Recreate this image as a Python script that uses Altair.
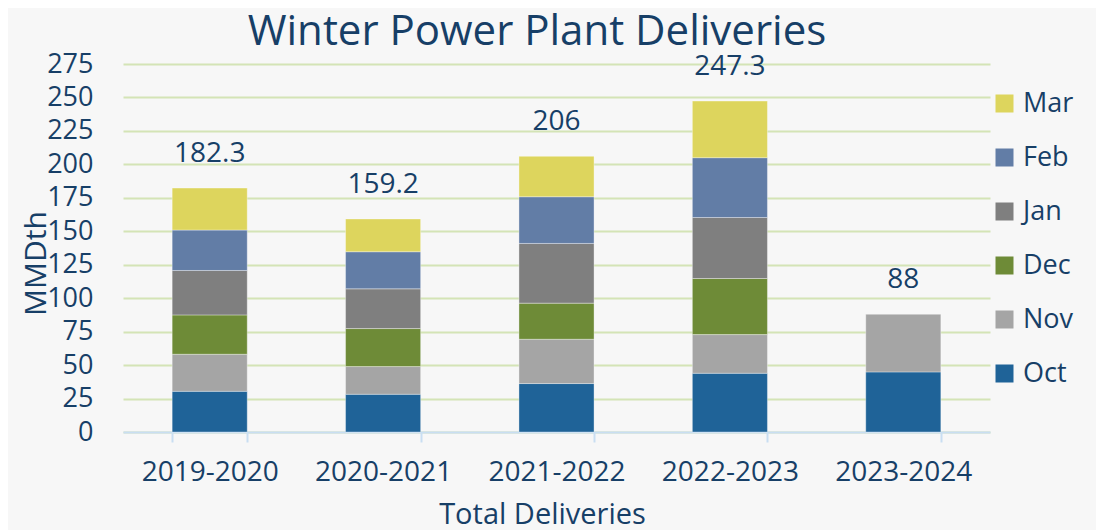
import altair as alt
import pandas as pd

seasons = ["2019-2020", "2020-2021", "2021-2022", "2022-2023", "2023-2024"]
months = ["Oct", "Nov", "Dec", "Jan", "Feb", "Mar"]
oct_vals = [30.4, 28.2, 36.2, 43.9, 44.9]
nov_vals = [27.7, 20.7, 33.1, 28.9, 43.1]
dec_vals = [29.4, 28.4, 27.0, 41.9, None]
jan_vals = [33.2, 29.7, 44.6, 45.6, None]
feb_vals = [30.2, 27.7, 34.9, 44.7, None]
mar_vals = [31.4, 24.5, 30.2, 42.3, None]
totals = [182.3, 159.2, 206, 247.3, 88]
total_labels = ["182.3", "159.2", "206", "247.3", "88"]
title_text = "Winter Power Plant Deliveries"

colors = {"Oct": "#1f6398", "Nov": "#a5a5a5", "Dec": "#6e8b37",
          "Jan": "#7f7f7f", "Feb": "#627da6", "Mar": "#ddd55d"}

series = [oct_vals, nov_vals, dec_vals, jan_vals, feb_vals, mar_vals]
rows = []
for mi, (m, vals) in enumerate(zip(months, series)):
    for s, v in zip(seasons, vals):
        if v is not None:
            rows.append({"season": s, "month": m, "order": mi, "value": v})
df = pd.DataFrame(rows)
tdf = pd.DataFrame({"season": seasons, "total": totals, "label": total_labels})

FONT = "Open Sans"
TXT = "#173f67"
legend_order = months[::-1]

xscale = alt.Scale(domain=seasons, paddingInner=0.567, paddingOuter=0.2835)
yscale = alt.Scale(domain=[0, 275], nice=False, zero=True)

x_axis = alt.Axis(title="Total Deliveries", labelAngle=0, labelFontSize=28,
                  labelColor=TXT, labelFont=FONT, labelPadding=16,
                  tickBand="extent", tickSize=10, tickColor="#c9def2", tickWidth=2,
                  domainColor="#c9def2", domainWidth=2,
                  titleFontSize=29, titleFont=FONT, titleColor=TXT,
                  titleFontWeight="normal", titleY=91, titleX=419,
                  titleAlign="center", titleBaseline="alphabetic")
y_axis = alt.Axis(title="MMDth", values=list(range(0, 276, 25)), labelOverlap=False,
                  labelFontSize=27, labelColor=TXT, labelFont=FONT,
                  labelPadding=30, ticks=False, tickSize=0, domain=False,
                  grid=True, gridColor="#d4e4b6", gridWidth=2,
                  titleFontSize=30, titleFont=FONT, titleColor=TXT,
                  titleFontWeight="normal", titleAngle=270, titleX=-78, titleY=199,
                  titleAlign="center", titleBaseline="alphabetic")

bars = alt.Chart(df).mark_bar(stroke="#ffffff", strokeOpacity=0.35, strokeWidth=1).encode(
    x=alt.X("season:N", scale=xscale, sort=seasons, axis=x_axis),
    y=alt.Y("value:Q", stack="zero", scale=yscale, axis=y_axis),
    color=alt.Color("month:N",
                    scale=alt.Scale(domain=legend_order, range=[colors[m] for m in legend_order]),
                    legend=alt.Legend(title=None, orient="none", legendX=868, legendY=26,
                                      symbolType="square", symbolSize=324, symbolStrokeWidth=0,
                                      symbolOpacity=1, labelFontSize=27, labelFont=FONT,
                                      labelColor=TXT, labelOffset=5, rowPadding=26, padding=0)),
    order=alt.Order("order:Q", sort="ascending"),
)

labels = alt.Chart(tdf).mark_text(fontSize=28, font=FONT, color=TXT, dy=-26,
                                  baseline="alphabetic").encode(
    x=alt.X("season:N", scale=xscale, sort=seasons, axis=x_axis),
    y=alt.Y("total:Q", scale=yscale, axis=y_axis),
    text="label:N",
)

title = alt.Chart(pd.DataFrame({"t": [title_text]})).mark_text(
    fontSize=42, font=FONT, color=TXT, baseline="alphabetic", align="center"
).encode(x=alt.value(414), y=alt.value(-19), text="t:N")

chart = alt.layer(bars, labels, title).properties(
    width=867, height=368,
    autosize=alt.AutoSizeParams(type="none"),
    padding={"left": 115, "top": 56, "right": 106, "bottom": 98},
    background="#f7f7f7",
).configure_view(stroke=None)

chart.save("out.html", embed_options={"renderer": "svg", "actions": False})
